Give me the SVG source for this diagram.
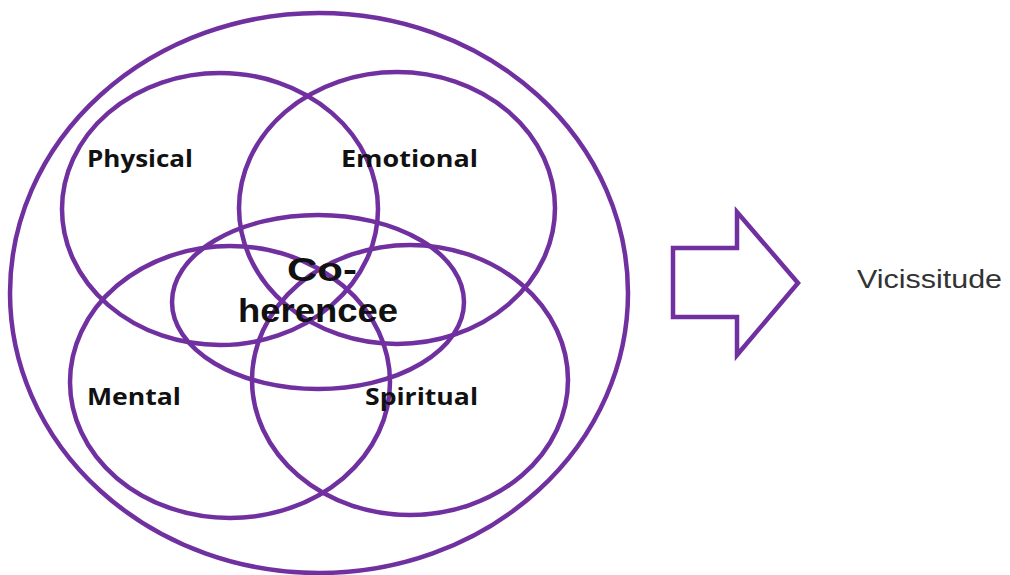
<svg xmlns="http://www.w3.org/2000/svg" width="1010" height="575" viewBox="0 0 1010 575">
<style>
.ring{fill:none;stroke:#7030A0;stroke-width:4.5}
.lbl{font-family:"Open Sans","Liberation Sans",sans-serif;font-weight:bold;font-size:23px;fill:#111}
.core{font-family:"Liberation Sans",Arial,sans-serif;font-weight:bold;font-size:34px;fill:#111}
.out{font-family:"Liberation Sans",Arial,sans-serif;font-size:25px;fill:#333}
</style>
<rect width="1010" height="575" fill="#fff"/>
<g id="outer"><ellipse class="ring" cx="319" cy="293" rx="309" ry="280"/></g>
<g id="physical"><ellipse class="ring" cx="220" cy="209" rx="158" ry="136"/><text class="lbl" x="87" y="167" textLength="106" lengthAdjust="spacingAndGlyphs">Physical</text></g>
<g id="emotional"><ellipse class="ring" cx="397" cy="208" rx="158" ry="136"/><text class="lbl" x="341" y="167" textLength="137" lengthAdjust="spacingAndGlyphs">Emotional</text></g>
<g id="mental"><ellipse class="ring" cx="230" cy="382" rx="160" ry="136"/><text class="lbl" x="87" y="405" textLength="94" lengthAdjust="spacingAndGlyphs">Mental</text></g>
<g id="spiritual"><ellipse class="ring" cx="410" cy="380" rx="158" ry="135"/><text class="lbl" x="365" y="405" textLength="113" lengthAdjust="spacingAndGlyphs">Spiritual</text></g>
<g id="coherence"><ellipse class="ring" cx="318" cy="302" rx="146" ry="87"/><text class="core" x="287" y="281" textLength="70" lengthAdjust="spacingAndGlyphs">Co-</text><text class="core" x="238" y="322" textLength="160" lengthAdjust="spacingAndGlyphs">herencee</text></g>
<g id="connectors"><polygon class="ring" points="673,248 737,248 737,212 798,283 737,355 737,317 673,317"/></g>
<g id="vicissitude"><text class="out" x="857" y="288" textLength="145" lengthAdjust="spacingAndGlyphs">Vicissitude</text></g>
</svg>
